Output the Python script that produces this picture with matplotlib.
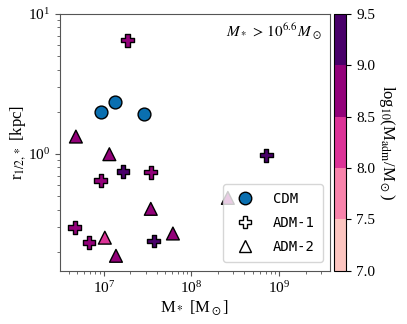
import numpy as np
import matplotlib
matplotlib.use('Agg')
import matplotlib.pyplot as plt
from matplotlib.colors import ListedColormap, BoundaryNorm
from matplotlib.lines import Line2D

plt.rcParams['font.family'] = 'Liberation Serif'
plt.rcParams['mathtext.fontset'] = 'stix'

# CDM
cdm_mstar = [9.4e6, 1.34e7, 2.85e7]
cdm_r = [1.99, 2.34, 1.94]

# ADM-1
adm1_mstar = [1.87e7, 7.1e8, 1.66e7, 3.44e7, 9.25e6, 4.67e6, 6.8e6, 3.73e7]
adm1_r = [6.49, 0.98, 0.75, 0.74, 0.645, 0.298, 0.233, 0.239]
adm1_madm = [8.7, 9.2, 9.2, 8.7, 8.7, 8.7, 8.7, 9.2]

# ADM-2
adm2_mstar = [4.82e6, 1.16e7, 3.44e7, 1.03e7, 6.15e7, 1.38e7, 2.6e8]
adm2_r = [1.33, 0.995, 0.405, 0.252, 0.27, 0.187, 0.485]
adm2_madm = [8.7, 8.7, 8.7, 8.3, 8.7, 8.7, 8.7]

bounds = [7.0, 7.5, 8.0, 8.5, 9.0, 9.5]
cmap = ListedColormap(plt.cm.RdPu(np.linspace(0.25, 1.0, 5)))
norm = BoundaryNorm(bounds, cmap.N)

fig = plt.figure(figsize=(4.07, 3.24), dpi=100)
ax = fig.add_axes([0.147, 0.164, 0.664, 0.793])
cax = fig.add_axes([0.821, 0.164, 0.03, 0.793])

ax.scatter(cdm_mstar, cdm_r, s=85, marker='o', color='#0a6fb0', edgecolor='black', lw=1, zorder=3)
sc = ax.scatter(adm1_mstar, adm1_r, s=85, marker='P', c=adm1_madm, cmap=cmap, norm=norm,
                edgecolor='black', lw=1, zorder=3)
ax.scatter(adm2_mstar, adm2_r, s=85, marker='^', c=adm2_madm, cmap=cmap, norm=norm,
           edgecolor='black', lw=1, zorder=3)

ax.set_xscale('log')
ax.set_yscale('log')
ax.set_xlim(10**6.5, 10**9.58)
ax.set_ylim(0.146, 10)
for s in ax.spines.values():
    s.set_color('#555555')
ax.tick_params(which='both', colors='#555555', labelcolor='black', labelsize=11)
ax.set_xlabel(r'M$_*$ [M$_\odot$]', fontsize=12, labelpad=1)
ax.set_ylabel(r'r$_{1/2,*}$ [kpc]', fontsize=12, labelpad=0)
ax.text(0.97, 0.93, r'$M_*\, >\, 10^{6.6}\, M_\odot$', transform=ax.transAxes,
        ha='right', va='center', fontsize=11)

handles = [
    Line2D([], [], ls='', marker='o', markersize=9, mfc='#0a6fb0', mec='black'),
    Line2D([], [], ls='', marker='P', markersize=9, mfc='white', mec='black'),
    Line2D([], [], ls='', marker='^', markersize=9, mfc='white', mec='black'),
]
leg = ax.legend(handles, ['CDM', 'ADM-1', 'ADM-2'], loc='lower right',
                bbox_to_anchor=(0.974, 0.035), borderaxespad=0,
                prop={'family': 'DejaVu Sans Mono', 'size': 10},
                handletextpad=1.0, labelspacing=0.7, borderpad=0.6)

cb = fig.colorbar(sc, cax=cax, ticks=bounds)
cb.ax.tick_params(labelsize=11)
cb.ax.set_yticklabels(['%.1f' % b for b in bounds])
cb.set_label(r'log$_{10}$(M$_{\rm adm}$/M$_\odot$)', fontsize=12, rotation=270, labelpad=16)

fig.savefig('out.png', dpi=100)
